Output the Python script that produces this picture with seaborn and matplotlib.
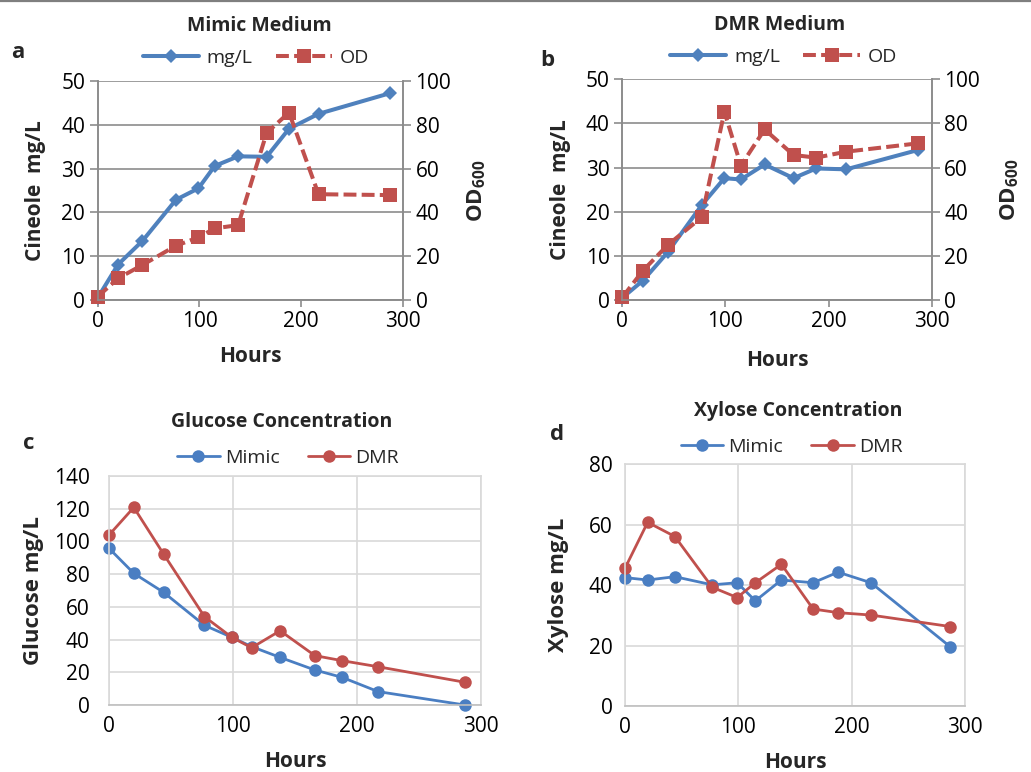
import matplotlib
matplotlib.use("Agg")
import matplotlib.pyplot as plt
from matplotlib.lines import Line2D
import seaborn as sns

# ---------------- data ----------------
hours = [0, 20, 44, 77, 99, 115, 138, 166, 188, 217, 287]

mimic_cineole = [0.5, 8.1, 13.5, 22.9, 25.5, 30.6, 32.8, 32.7, 39.1, 42.5, 47.2]
mimic_od = [1.5, 9.9, 16.0, 24.8, 28.6, 32.7, 34.2, 76.3, 85.6, 48.3, 47.9]

dmr_cineole = [0.5, 4.4, 10.8, 21.5, 27.6, 27.3, 30.7, 27.6, 29.8, 29.6, 34.0]
dmr_od = [1.2, 13.3, 24.9, 37.5, 85.3, 60.9, 77.3, 65.7, 64.5, 67.2, 71.0]

glucose_mimic = [95.8, 80.5, 68.9, 48.7, 41.4, 35.7, 29.1, 21.4, 16.9, 8.2, 0.0]
glucose_dmr = [103.9, 120.8, 92.3, 54.0, 41.4, 35.0, 45.4, 30.2, 27.1, 23.4, 13.9]

xylose_mimic = [42.5, 41.7, 42.8, 40.1, 40.8, 34.8, 41.7, 40.8, 44.3, 40.8, 19.6]
xylose_dmr = [45.6, 60.8, 56.1, 39.3, 35.9, 40.8, 46.9, 32.1, 30.9, 30.1, 26.3]

x_ticks = [0, 100, 200, 300]
top_left_ticks = [0, 10, 20, 30, 40, 50]
top_right_ticks = [0, 20, 40, 60, 80, 100]
glucose_ticks = [0, 20, 40, 60, 80, 100, 120, 140]
xylose_ticks = [0, 20, 40, 60, 80]

# ---------------- style ----------------
sns.set_style("white")
plt.rcParams["font.family"] = ["Open Sans", "DejaVu Sans"]
plt.rcParams["mathtext.fontset"] = "custom"
plt.rcParams["mathtext.rm"] = "Open Sans"
plt.rcParams["mathtext.bf"] = "Open Sans:bold"

BLUE = "#4F81BD"
RED = "#C0504D"
BLUE2 = "#4A7EC2"
RED2 = "#C0504D"
GRID_TOP = "#8C8C8C"
GRID_BOT = "#D9D9D9"
TICK_FS = 15

W, H = 1031, 772
fig = plt.figure(figsize=(W / 100, H / 100), dpi=100)
fig.patch.set_facecolor("white")


def fx(px):
    return px / W


def fy(py):
    return 1 - py / H


# top frame line
fig.add_artist(Line2D([0, 1], [fy(0.8), fy(0.8)], transform=fig.transFigure,
                      color="#7F7F7F", linewidth=1.6))


def top_panel(rect, cineole, od, title, title_xy, letter, letter_xy, leg_xy,
              ylpad, odpad, xlpad):
    ax = fig.add_axes(rect)
    ax2 = ax.twinx()
    sns.lineplot(x=hours, y=cineole, ax=ax, color=BLUE, marker="D",
                 markersize=7.6, linewidth=2.9, markeredgecolor=BLUE,
                 markeredgewidth=0, clip_on=False, label="mg/L", legend=False)
    sns.lineplot(x=hours, y=od, ax=ax2, color=RED, marker="s",
                 markersize=10.5, linewidth=2.9, markeredgecolor=RED,
                 markeredgewidth=0, linestyle=(0, (3.2, 1.3)), clip_on=False,
                 label="OD", legend=False)
    ax.set_xlim(0, 300)
    ax.set_ylim(0, 50)
    ax2.set_ylim(0, 100)
    ax.set_xticks(x_ticks)
    ax.set_yticks(top_left_ticks)
    ax2.set_yticks(top_right_ticks)
    ax.grid(axis="y", color=GRID_TOP, linewidth=1.2)
    ax.grid(axis="x", visible=False)
    ax2.grid(False)
    for a in (ax, ax2):
        a.spines["top"].set_visible(False)
        for s in ("left", "right", "bottom"):
            a.spines[s].set_color(GRID_TOP)
            a.spines[s].set_linewidth(1.2)
    ax.tick_params(axis="both", which="major", labelsize=TICK_FS,
                   colors=GRID_TOP, labelcolor="black", length=6, width=1.2,
                   direction="out", pad=3)
    ax.tick_params(axis="x", length=5, bottom=True)
    ax.tick_params(axis="y", left=True)
    ax2.tick_params(axis="y", labelsize=TICK_FS, colors=GRID_TOP,
                    labelcolor="black", length=6, width=1.2, direction="out",
                    pad=3, right=True)
    ax.set_ylabel("Cineole  mg/L", fontsize=15, fontweight="bold", labelpad=ylpad)
    ax2.set_ylabel(r"OD$_{\mathbf{600}}$", fontsize=16, fontweight="bold",
                   labelpad=odpad, rotation=90)
    ax.set_xlabel("Hours", fontsize=15, fontweight="bold", labelpad=xlpad)
    ax.set_zorder(1)
    ax2.set_zorder(2)
    ax.patch.set_visible(True)
    ax.patch.set_facecolor("white")
    ax2.patch.set_visible(False)
    fig.text(fx(title_xy[0]), fy(title_xy[1]), title, fontsize=14,
             fontweight="bold", ha="center", va="center")
    fig.text(fx(letter_xy[0]), fy(letter_xy[1]), letter, fontsize=16,
             fontweight="bold", ha="center", va="center")
    handles = ax.get_lines()[:1] + ax2.get_lines()[:1]
    fig.legend(handles=handles, labels=["mg/L", "OD"], loc="center",
               bbox_to_anchor=(fx(leg_xy[0]), fy(leg_xy[1])), ncol=2,
               frameon=False, fontsize=14, handlelength=2.9,
               handletextpad=0.4, columnspacing=1.2, borderpad=0,
               borderaxespad=0)
    return ax


def bottom_panel(rect, mimic, dmr, yticks, ymax, ylabel, title, title_xy,
                 letter, letter_xy, leg_xy, ylpad, xlpad, ytpad):
    ax = fig.add_axes(rect)
    sns.lineplot(x=hours, y=mimic, ax=ax, color=BLUE2, marker="o",
                 markersize=9, linewidth=2.0, markeredgecolor=BLUE2,
                 markeredgewidth=0, clip_on=False, label="Mimic", legend=False)
    sns.lineplot(x=hours, y=dmr, ax=ax, color=RED2, marker="o",
                 markersize=9, linewidth=2.0, markeredgecolor=RED2,
                 markeredgewidth=0, clip_on=False, label="DMR", legend=False)
    ax.set_xlim(0, 300)
    ax.set_ylim(0, ymax)
    ax.set_xticks(x_ticks)
    ax.set_yticks(yticks)
    ax.grid(True, color=GRID_BOT, linewidth=1.2)
    ax.set_axisbelow(True)
    for s in ("left", "right", "top", "bottom"):
        ax.spines[s].set_visible(True)
        ax.spines[s].set_color(GRID_BOT)
        ax.spines[s].set_linewidth(1.2)
    ax.spines["bottom"].set_color("#BFBFBF")
    ax.tick_params(axis="both", labelsize=TICK_FS, length=0, labelcolor="black")
    ax.tick_params(axis="y", pad=ytpad)
    ax.tick_params(axis="x", pad=8)
    ax.set_ylabel(ylabel, fontsize=16, fontweight="bold", labelpad=ylpad)
    ax.set_xlabel("Hours", fontsize=15, fontweight="bold", labelpad=xlpad)
    fig.text(fx(title_xy[0]), fy(title_xy[1]), title, fontsize=14,
             fontweight="bold", ha="center", va="center")
    fig.text(fx(letter_xy[0]), fy(letter_xy[1]), letter, fontsize=16,
             fontweight="bold", ha="center", va="center")
    fig.legend(handles=ax.get_lines()[:2], labels=["Mimic", "DMR"],
               loc="center", bbox_to_anchor=(fx(leg_xy[0]), fy(leg_xy[1])),
               ncol=2, frameon=False, fontsize=14, handlelength=2.2,
               handletextpad=0.25, columnspacing=1.45, borderpad=0,
               borderaxespad=0)
    return ax


top_panel([fx(97.7), fy(300), fx(305.3), (300 - 81) / H],
          mimic_cineole, mimic_od, "Mimic Medium", (259, 26), "a", (18, 52),
          (256, 58), ylpad=11, odpad=10, xlpad=10)
top_panel([fx(622.3), fy(300), fx(309.4), (300 - 79.3) / H],
          dmr_cineole, dmr_od, "DMR Medium", (780, 25), "b", (547, 60),
          (783.5, 57), ylpad=11, odpad=13, xlpad=13)
bottom_panel([fx(109), fy(705), fx(372), (705 - 476) / H],
             glucose_mimic, glucose_dmr, glucose_ticks, 140, "Glucose mg/L",
             "Glucose Concentration", (282, 422), "c", (29, 443), (288, 458),
             ylpad=7, xlpad=10, ytpad=14)
bottom_panel([fx(625), fy(706), fx(340), (706 - 464.3) / H],
             xylose_mimic, xylose_dmr, xylose_ticks, 80, "Xylose mg/L",
             "Xylose Concentration", (798, 411), "d", (557, 435), (791.5, 447),
             ylpad=14, xlpad=10, ytpad=9)

fig.savefig("out.png", dpi=100, facecolor="white")
